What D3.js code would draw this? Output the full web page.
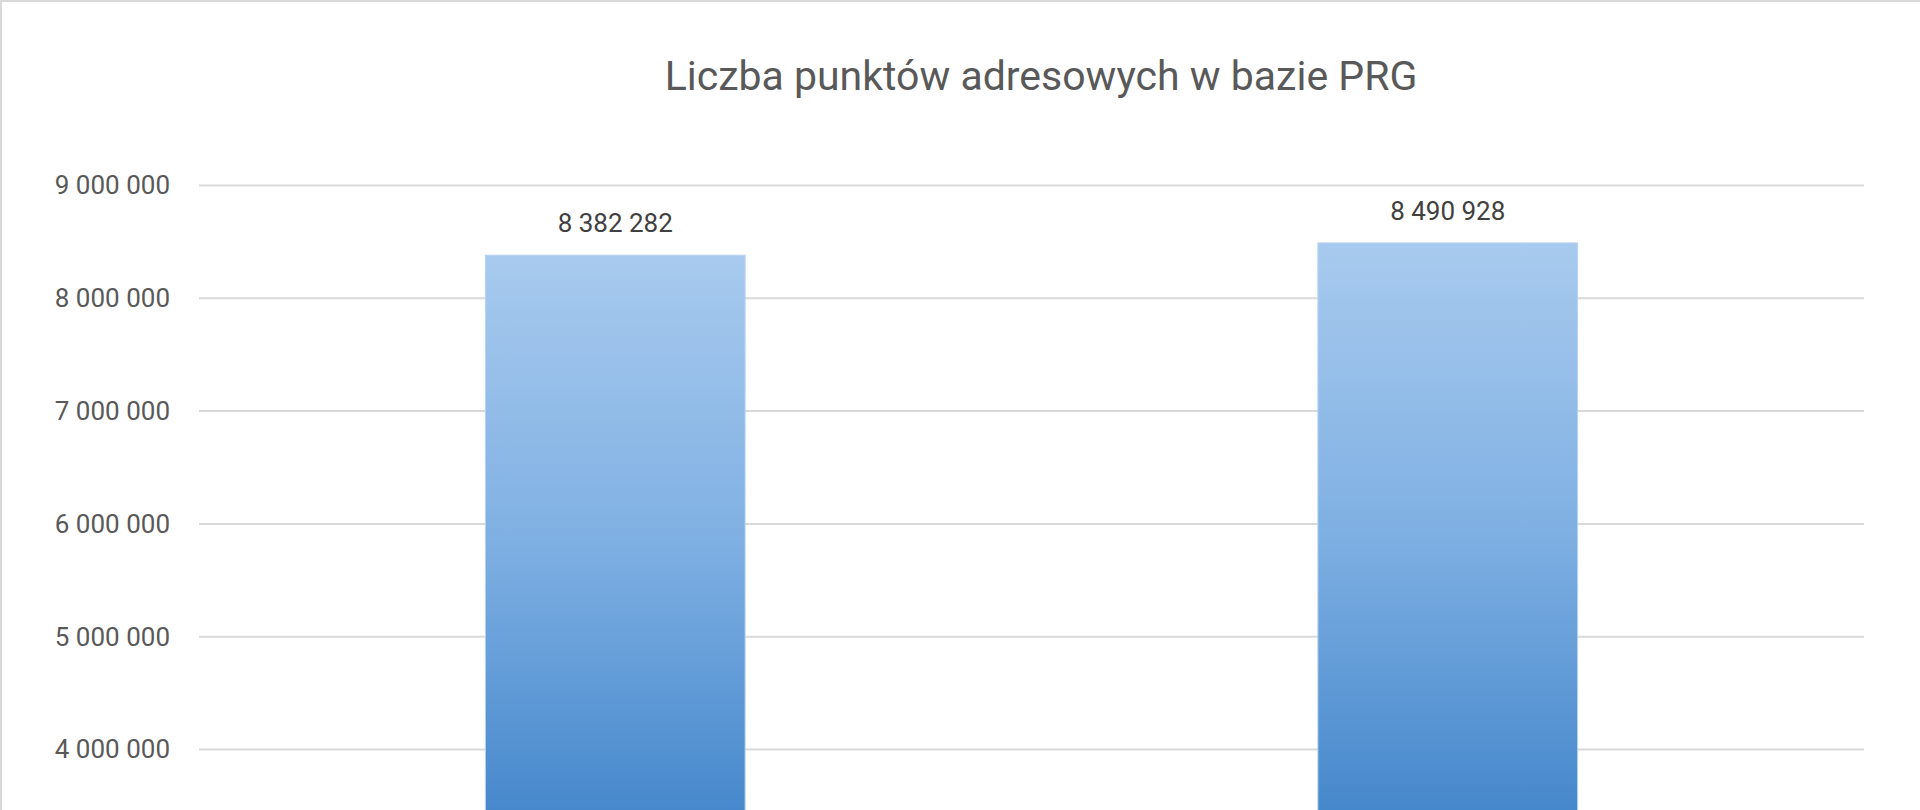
<!DOCTYPE html>
<html>
<head>
<meta charset="utf-8">
<script src="https://cdn.jsdelivr.net/npm/d3@7"></script>
<style>
  html, body { margin: 0; padding: 0; background: #ffffff; overflow: hidden; }
  svg { display: block; }
</style>
</head>
<body>
<div id="chart"></div>
<script>
// Chart data
const title = "Liczba punktów adresowych w bazie PRG";
const categories = ["A", "B"];
const values = [8382282, 8490928];
// only the ticks that fall inside the visible window
const yTicks = [4000000, 5000000, 6000000, 7000000, 8000000, 9000000];

const width = 1920;
const height = 810;

// Plot area (lower part lies below the visible window, as in the reference)
const plot = { left: 199, right: 1864, top: 185.5, bottom: 1200.7 };

const pl = d3.formatLocale({ decimal: ",", thousands: " ", grouping: [3], currency: ["", " zł"] });
const fmt = pl.format(",d");

const svg = d3.select("#chart")
    .append("svg")
    .attr("width", width)
    .attr("height", height);

// Gradient for the bars
const defs = svg.append("defs");
const grad = defs.append("linearGradient")
    .attr("id", "barGrad")
    .attr("x1", 0).attr("y1", 0)
    .attr("x2", 0).attr("y2", 1);
grad.append("stop").attr("offset", "0").attr("stop-color", "#a8caee");
grad.append("stop").attr("offset", "0.3").attr("stop-color", "#7fb0e3");
grad.append("stop").attr("offset", "0.59").attr("stop-color", "#4688cc");
grad.append("stop").attr("offset", "1").attr("stop-color", "#2f6eb0");

// Background
svg.append("rect")
    .attr("width", width)
    .attr("height", height)
    .attr("fill", "#ffffff");

// Chart border (top and left visible)
svg.append("line")
    .attr("x1", 0).attr("x2", width)
    .attr("y1", 1).attr("y2", 1)
    .attr("stroke", "#d9d9d9")
    .attr("stroke-width", 2);
svg.append("line")
    .attr("x1", 1).attr("x2", 1)
    .attr("y1", 0).attr("y2", height)
    .attr("stroke", "#d9d9d9")
    .attr("stroke-width", 2);

const x = d3.scaleBand()
    .domain(categories)
    .range([plot.left, plot.right])
    .paddingInner(0.688)
    .paddingOuter(0.344);

const y = d3.scaleLinear()
    .domain([0, 9000000])
    .range([plot.bottom, plot.top]);

// Gridlines
svg.append("g")
    .selectAll("line")
    .data(yTicks)
    .join("line")
    .attr("x1", plot.left)
    .attr("x2", plot.right)
    .attr("y1", d => y(d))
    .attr("y2", d => y(d))
    .attr("stroke", "#d9d9d9")
    .attr("stroke-width", 2);

// Y axis labels
const yAxis = d3.axisLeft(y)
    .tickValues(yTicks)
    .tickFormat(fmt)
    .tickSize(0)
    .tickPadding(29);

const yAxisG = svg.append("g")
    .attr("transform", `translate(${plot.left},0)`)
    .call(yAxis);
yAxisG.select(".domain").remove();
yAxisG.selectAll("text")
    .attr("fill", "#595959")
    .attr("font-family", "Roboto, 'Open Sans', sans-serif")
    .attr("font-size", "26px");

// Bars
svg.append("g")
    .selectAll("rect")
    .data(values)
    .join("rect")
    .attr("x", (d, i) => x(categories[i]))
    .attr("y", d => y(d))
    .attr("width", x.bandwidth())
    .attr("height", d => y(0) - y(d))
    .attr("fill", "url(#barGrad)")
    .attr("stroke", "#b9d4f0")
    .attr("stroke-width", 1);

// Data labels
svg.append("g")
    .selectAll("text")
    .data(values)
    .join("text")
    .attr("x", (d, i) => x(categories[i]) + x.bandwidth() / 2)
    .attr("y", d => y(d) - 23)
    .attr("text-anchor", "middle")
    .attr("fill", "#404040")
    .attr("font-family", "Roboto, 'Open Sans', sans-serif")
    .attr("font-size", "26px")
    .text(d => fmt(d));

// Title
svg.append("text")
    .attr("x", 1041)
    .attr("y", 90)
    .attr("text-anchor", "middle")
    .attr("fill", "#595959")
    .attr("font-family", "Roboto, 'Open Sans', sans-serif")
    .attr("font-size", "41px")
    .text(title);
</script>
</body>
</html>
